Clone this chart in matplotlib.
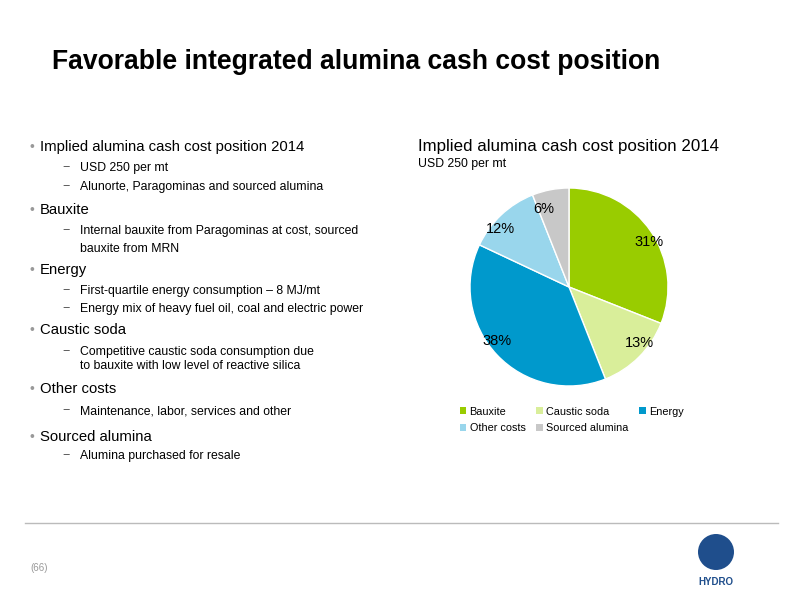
import matplotlib
matplotlib.use("Agg")
import matplotlib.pyplot as plt
from matplotlib.patches import Patch, Ellipse

plt.rcParams["font.family"] = ["Liberation Sans", "DejaVu Sans"]

categories = ["Bauxite", "Caustic soda", "Energy", "Other costs", "Sourced alumina"]
shares = [31, 13, 38, 12, 6]
colors = ["#99cc00", "#d9ee9a", "#0099cc", "#99d6ec", "#c8c8c8"]

bullets = [
    ("b", 147, "Implied alumina cash cost position 2014"),
    ("s", 168, "USD 250 per mt"),
    ("s", 187, "Alunorte, Paragominas and sourced alumina"),
    ("b", 210, "Bauxite"),
    ("s", 231, "Internal bauxite from Paragominas at cost, sourced"),
    ("c", 249, "bauxite from MRN"),
    ("b", 270, "Energy"),
    ("s", 291, "First-quartile energy consumption \u2013 8 MJ/mt"),
    ("s", 309, "Energy mix of heavy fuel oil, coal and electric power"),
    ("b", 330, "Caustic soda"),
    ("s", 352, "Competitive caustic soda consumption due"),
    ("c", 366, "to bauxite with low level of reactive silica"),
    ("b", 389, "Other costs"),
    ("s", 411, "Maintenance, labor, services and other"),
    ("b", 437, "Sourced alumina"),
    ("s", 456, "Alumina purchased for resale"),
]

W, H = 800, 600
fig = plt.figure(figsize=(8, 6), dpi=100)


def fy(y):
    return 1 - y / H


fig.text(52 / W, fy(62), "Favorable integrated alumina cash cost position",
         fontsize=19.1, fontweight="bold", va="center", ha="left")

for kind, y, txt in bullets:
    if kind == "b":
        fig.text(30 / W, fy(y), "\u2022", fontsize=10, color="#999999", va="center")
        fig.text(40 / W, fy(y), txt, fontsize=10.7, va="center")
    else:
        if kind == "s":
            fig.text(62 / W, fy(y), "\u2212", fontsize=9, color="#555555", va="center")
        fig.text(80 / W, fy(y), txt, fontsize=8.85, va="center")

fig.text(418 / W, fy(147), "Implied alumina cash cost position 2014", fontsize=12.2, va="center")
fig.text(418 / W, fy(164), "USD 250 per mt", fontsize=8.85, va="center")

ax = fig.add_axes([(569 - 99) / W, fy(287 + 99), 198 / W, 198 / H])
wedges, texts = ax.pie(shares, colors=colors, startangle=90, counterclock=False,
                       labels=[f"{s}%" for s in shares], labeldistance=0.8,
                       textprops={"fontsize": 10.5},
                       wedgeprops={"edgecolor": "white", "linewidth": 1})
ax.set_xlim(-1, 1)
ax.set_ylim(-1, 1)
ax.set_aspect("equal")

order = [0, 3, 1, 4, 2]
handles = [Patch(facecolor=colors[i]) for i in order]
fig.legend(handles, [categories[i] for i in order], loc="upper left",
           bbox_to_anchor=(450 / W, fy(397)),
           ncol=3, frameon=False, fontsize=7.8, handlelength=0.6, handleheight=0.6,
           handletextpad=0.3, columnspacing=1.0, labelspacing=0.6)

line = plt.Line2D([25 / W, 778 / W], [fy(523), fy(523)], transform=fig.transFigure,
                  color="#bbbbbb", linewidth=1)
fig.add_artist(line)
fig.text(30 / W, fy(568), "(66)", fontsize=7, color="#999999", va="center")

logo = Ellipse((716 / W, fy(552)), 36 / W, 36 / H, transform=fig.transFigure,
               facecolor="#1f4e8c", edgecolor="none")
fig.add_artist(logo)
fig.text(716 / W, fy(582), "HYDRO", fontsize=7, color="#1f4e8c", ha="center",
         va="center", fontweight="bold")

fig.savefig("out.png", dpi=100)
